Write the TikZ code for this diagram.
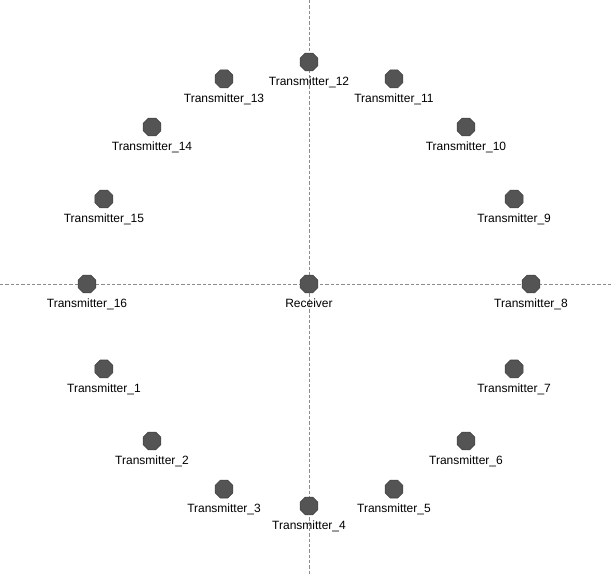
\documentclass[tikz,border=0pt]{standalone}
\usepackage{fontspec}
\setmainfont{Liberation Sans}
\usetikzlibrary{math,positioning,shapes.geometric}

\tikzset{
  dot/.style={regular polygon, regular polygon sides=8, minimum size=14.5pt,
    inner sep=0pt, fill=black!67, draw=black!75, line width=0.4pt},
  lbl/.style={font=\fontsize{9}{10}\selectfont, inner sep=1pt},
  axis/.style={draw=black!45, line width=0.6pt, dash pattern=on 2.5pt off 1.5pt},
}

\begin{document}
\begin{tikzpicture}[x=0.75pt, y=0.75pt]
  \tikzmath{%
    \cx = 309; \cy = 290; \r = 222;
  }
  \useasboundingbox (0,0) rectangle (612,574);

  % axes
  \coordinate (top) at (\cx,574);
  \coordinate (bot) at (\cx,0);
  \coordinate (lft) at (0,\cy);
  \coordinate (rgt) at (612,\cy);
  \draw[axis] (top) -- (bot);
  \draw[axis] (lft) -- (rgt);

  \node[dot] (rx) at (\cx,\cy) {};
  \node[lbl, below=2.8pt of rx] (rxl) {Receiver};

  \foreach \i in {1,...,16} {
    \node[dot] (tx\i) at ({\cx + \r*cos(180+22.5*\i)}, {\cy + \r*sin(180+22.5*\i)}) {};
    \node[lbl, below=2.8pt of tx\i] (txl\i) {Transmitter\_\i};
  }
\end{tikzpicture}
\end{document}
